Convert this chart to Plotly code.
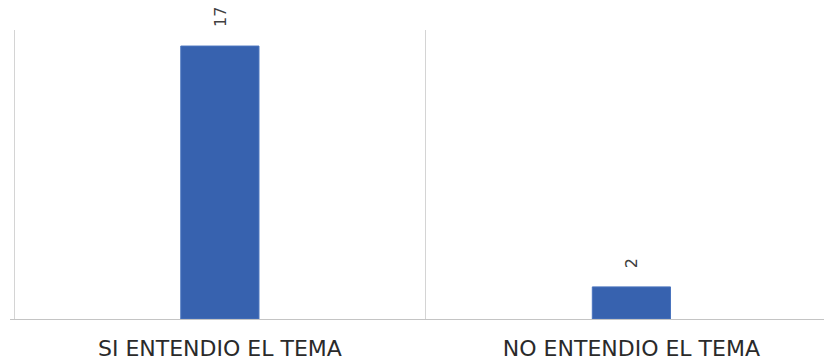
import plotly.graph_objects as go

categories = ["SI ENTENDIO EL TEMA", "NO ENTENDIO EL TEMA"]
values = [17, 2]
positions = [0, 1]
boundaries = [-0.5, 0.5]

fig = go.Figure(
    go.Bar(
        x=positions,
        y=values,
        width=0.19,
        marker=dict(color="#3762AF", line=dict(color="#4A74BE", width=1)),
        hoverinfo="skip",
    )
)

for xv, yv in zip(positions, values):
    fig.add_annotation(
        x=xv, y=yv, xref="x", yref="y",
        text=str(yv), showarrow=False, textangle=-90,
        xanchor="center", yanchor="bottom", yshift=17,
        font=dict(family="DejaVu Sans", size=16, color="#404040"),
    )

fig.update_layout(
    width=824,
    height=361,
    margin=dict(l=10, r=0, t=30, b=42, autoexpand=False),
    paper_bgcolor="white",
    plot_bgcolor="white",
    showlegend=False,
    xaxis=dict(
        range=[-0.51, 1.468],
        tickmode="array",
        tickvals=positions,
        ticktext=categories,
        showgrid=False,
        zeroline=False,
        showline=True,
        linecolor="#c4c4c4",
        linewidth=1,
        ticks="outside",
        ticklen=10,
        tickcolor="rgba(0,0,0,0)",
        automargin=False,
        tickfont=dict(family="DejaVu Sans", size=22, color="#2a2a2a"),
        minor=dict(tickvals=boundaries, showgrid=True, gridcolor="#d4d4d4", gridwidth=1),
    ),
    yaxis=dict(
        range=[0, 18],
        visible=False,
        showgrid=False,
        zeroline=False,
        automargin=False,
    ),
)

fig.write_html(
    "out.html",
    config={"displayModeBar": False},
    post_script="document.body.style.margin='0';document.body.style.overflow='hidden';",
)
